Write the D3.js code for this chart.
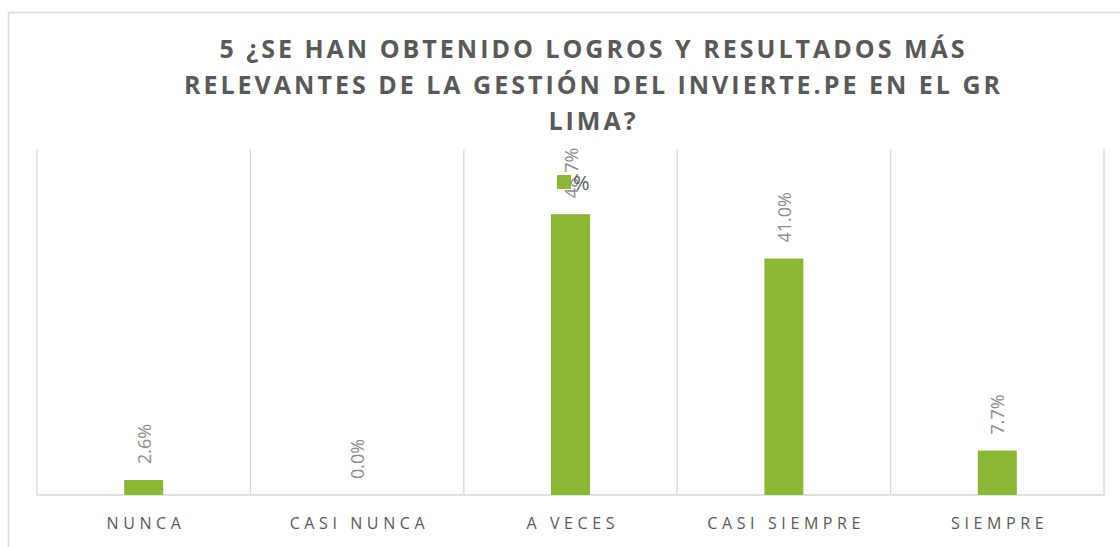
<!DOCTYPE html>
<html lang="es">
<head>
<meta charset="UTF-8">
<title>Logros y resultados Invierte.pe</title>
<script src="https://d3js.org/d3.v7.min.js"></script>
<style>
  body { margin: 0; background: #fff; }
  svg { display: block; }
</style>
</head>
<body>
<div id="chart"></div>
<script>
// chart values
const categories = ["NUNCA", "CASI NUNCA", "A VECES", "CASI SIEMPRE", "SIEMPRE"];
const percents = [0.026, 0.0, 0.487, 0.41, 0.077];
const seriesName = "%";
const titleLines = [
  "5 ¿SE HAN OBTENIDO LOGROS Y RESULTADOS MÁS",
  "RELEVANTES DE LA GESTIÓN DEL INVIERTE.PE EN EL GR",
  "LIMA?"
];

const W = 1120, H = 547;
const margin = { top: 149, right: 16, bottom: 52, left: 37 };
const green = "#8ab833";
const gridColor = "#d9d9d9";

const svg = d3.select("#chart").append("svg")
    .attr("width", W)
    .attr("height", H);

// outer chart frame (cut off at right/bottom)
svg.append("path")
    .attr("d", `M8.5,${H} V12.5 H${W}`)
    .attr("fill", "none")
    .attr("stroke", gridColor)
    .attr("stroke-width", 1.5);

// title
const titleSpacing = 3;
svg.append("text")
    .attr("text-anchor", "middle")
    .attr("font-family", "'Open Sans', sans-serif")
    .attr("font-weight", 700)
    .attr("font-size", 25)
    .attr("letter-spacing", titleSpacing)
    .attr("fill", "#595959")
    .selectAll("tspan")
    .data(titleLines)
    .join("tspan")
    .attr("x", 592 + titleSpacing / 2)
    .attr("y", (d, i) => 58 + i * 36)
    .text(d => d);

const x = d3.scaleBand()
    .domain(categories)
    .range([margin.left, W - margin.right]);

const y = d3.scaleLinear()
    .domain([0, 0.6])
    .range([H - margin.bottom, margin.top]);

const g = svg.append("g");

// vertical category separators
const edges = categories.map(c => x(c)).concat([x.range()[1]]);
g.selectAll("line.sep")
    .data(edges)
    .join("line")
    .attr("class", "sep")
    .attr("x1", d => d).attr("x2", d => d)
    .attr("y1", y(0.6)).attr("y2", y(0))
    .attr("stroke", gridColor)
    .attr("stroke-width", 1.3);

// baseline
g.append("line")
    .attr("x1", x.range()[0]).attr("x2", x.range()[1])
    .attr("y1", y(0)).attr("y2", y(0))
    .attr("stroke", gridColor)
    .attr("stroke-width", 1.3);

const barW = 39;
g.selectAll("rect.bar")
    .data(percents)
    .join("rect")
    .attr("class", "bar")
    .attr("x", (d, i) => x(categories[i]) + x.bandwidth() / 2 - barW / 2)
    .attr("y", d => y(d))
    .attr("width", barW)
    .attr("height", d => y(0) - y(d))
    .attr("fill", green);

// rotated value labels
const fmt = d3.format(".1%");
g.selectAll("text.val")
    .data(percents)
    .join("text")
    .attr("class", "val")
    .attr("transform", (d, i) => {
      const cx = x(categories[i]) + x.bandwidth() / 2 + 7;
      return `translate(${cx},${y(d) - 16}) rotate(-90)`;
    })
    .attr("font-family", "'Open Sans', sans-serif")
    .attr("font-size", 18)
    .attr("fill", "#8c8c8c")
    .text(d => fmt(d));

// category axis
const axisSpacing = 4.6;
const xAxis = d3.axisBottom(x).tickSize(0).tickPadding(0);
const ax = svg.append("g")
    .attr("transform", `translate(0,${y(0)})`)
    .call(xAxis);
ax.select(".domain").remove();
ax.selectAll("text")
    .attr("y", 34)
    .attr("dy", 0)
    .attr("dx", axisSpacing / 2)
    .attr("font-family", "'Open Sans', sans-serif")
    .attr("font-size", 16)
    .attr("letter-spacing", axisSpacing)
    .attr("fill", "#595959");

// legend
const leg = svg.append("g").attr("transform", "translate(557,175)");
leg.append("rect").attr("width", 14).attr("height", 14).attr("fill", green);
leg.append("text")
    .attr("x", 16).attr("y", 15)
    .attr("font-family", "'Open Sans', sans-serif")
    .attr("font-size", 20)
    .attr("fill", "#595959")
    .text(seriesName);
</script>
</body>
</html>
